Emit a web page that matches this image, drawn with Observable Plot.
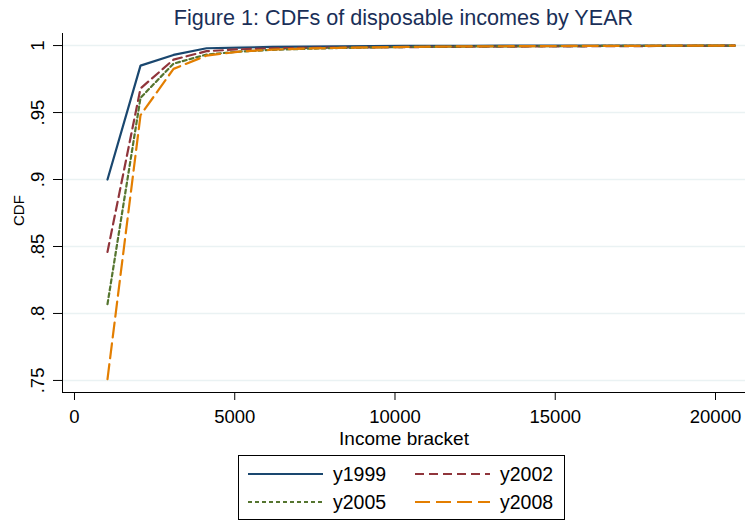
<!DOCTYPE html>
<html>
<head>
<meta charset="utf-8">
<script src="https://cdn.jsdelivr.net/npm/d3@7"></script>
<script src="https://cdn.jsdelivr.net/npm/@observablehq/plot@0.6"></script>
<style>
  html, body { margin: 0; padding: 0; background: #fff; }
  #wrap { position: relative; width: 745px; height: 522px; font-family: "Liberation Sans", Arial, sans-serif; overflow: hidden; }
  #title { position: absolute; left: 62px; width: 683px; top: 0; height: 30px; text-align: center; font-size: 21.6px; line-height: 36px; color: #1a2f58; white-space: nowrap; }
  #chart { position: absolute; left: 0; top: 30px; }
  #legend { position: absolute; left: 238px; top: 455px; width: 325px; height: 63px; border: 1px solid #000; }
</style>
</head>
<body>
<div id="wrap">
  <div id="title">Figure 1: CDFs of disposable incomes by YEAR</div>
  <div id="chart"></div>
  <div id="legend"></div>
</div>
<script>
const brackets = [1030, 2060, 3090, 4120, 5150, 6180, 7210, 8240, 9270, 10300, 11330, 12360, 13390, 14420, 15450, 16480, 17510, 18540, 19570, 20600];
const y1999 = [0.900, 0.985, 0.993, 0.998, 0.9985, 0.999, 0.9992, 0.9994, 0.9996, 0.9997, 0.9998, 0.9998, 0.9999, 0.9999, 0.9999, 0.9999, 1, 1, 1, 1];
const y2002 = [0.846, 0.968, 0.9895, 0.9958, 0.9972, 0.998, 0.9983, 0.9985, 0.9986, 0.9988, 0.999, 0.9991, 0.9992, 0.9993, 0.9994, 0.9995, 0.9996, 0.9997, 0.9998, 0.9999];
const y2005 = [0.807, 0.961, 0.9865, 0.9933, 0.9955, 0.9968, 0.9976, 0.9982, 0.9986, 0.9989, 0.9991, 0.9993, 0.9994, 0.9995, 0.9996, 0.9997, 0.9998, 0.9998, 0.9999, 1];
const y2008 = [0.751, 0.948, 0.9826, 0.9925, 0.9955, 0.997, 0.9978, 0.9983, 0.9987, 0.999, 0.9992, 0.9994, 0.9995, 0.9996, 0.9997, 0.9998, 0.9998, 0.9999, 0.9999, 1];
const xTicks = [0, 5000, 10000, 15000, 20000];
const yTicks = [0.75, 0.8, 0.85, 0.9, 0.95, 1];
const seriesNames = ["y1999", "y2002", "y2005", "y2008"];

const seriesValues = [y1999, y2002, y2005, y2008];
const styles = [
  {color: "#1a476f", dash: null},
  {color: "#90353b", dash: "9,5"},
  {color: "#55752f", dash: "4,3"},
  {color: "#e37e00", dash: "15,6"}
];
const data = seriesNames.map((name, i) => brackets.map((b, j) => ({series: name, x: b, y: seriesValues[i][j]})));

const xDomain = [-374, 20936];
const yDomain = [0.741, 1.009];

const chart = Plot.plot({
  width: 745,
  height: 420,
  marginLeft: 62,
  marginRight: 0,
  marginTop: 3,
  marginBottom: 58,
  style: {fontFamily: "Liberation Sans, Arial, sans-serif", fontSize: "19px", color: "#000", background: "#fff"},
  x: {domain: xDomain},
  y: {domain: yDomain},
  marks: [
    Plot.gridY(yTicks, {stroke: "#eaf2f3", strokeOpacity: 1, strokeWidth: 1.6}),
    ...data.map((d, i) => Plot.line(d, {x: "x", y: "y", stroke: styles[i].color, strokeWidth: 2.2, strokeDasharray: styles[i].dash, strokeLinejoin: "miter"})),
    Plot.ruleX([xDomain[0]], {stroke: "#000", strokeWidth: 1}),
    Plot.ruleY([yDomain[0]], {stroke: "#000", strokeWidth: 1}),
    Plot.axisX({ticks: xTicks, tickFormat: d => String(d), tickSize: 8, tickPadding: 9, fontSize: 18.5, label: null}),
    Plot.axisY({ticks: yTicks, tickFormat: d => d === 1 ? "1" : String(d).replace(/^0/, ""), tickSize: 9, tickRotate: -90, tickPadding: 10, fontSize: 18.5, label: null}),
    Plot.text(["Income bracket"], {frameAnchor: "bottom", dy: 52, fontSize: 19, lineAnchor: "bottom"}),
    Plot.text(["CDF"], {frameAnchor: "left", dx: -43, dy: 13, rotate: -90, fontSize: 15})
  ]
});
document.getElementById("chart").appendChild(chart);

// legend
const legend = d3.select("#legend").append("svg").attr("width", 325).attr("height", 63)
  .style("position", "absolute").style("left", "0").style("top", "0");
const pos = [
  {lx: 9, ly: 18}, {lx: 176, ly: 18}, {lx: 9, ly: 46}, {lx: 176, ly: 46}
];
seriesNames.forEach((name, i) => {
  const p = pos[i];
  legend.append("line").attr("x1", p.lx).attr("x2", p.lx + 75).attr("y1", p.ly).attr("y2", p.ly)
    .attr("stroke", styles[i].color).attr("stroke-width", 2)
    .attr("stroke-dasharray", styles[i].dash);
  legend.append("text").attr("x", p.lx + 85).attr("y", p.ly).attr("dy", "0.35em")
    .attr("font-family", "Liberation Sans, Arial, sans-serif").attr("font-size", 19.5).attr("fill", "#000")
    .text(name);
});
</script>
</body>
</html>
